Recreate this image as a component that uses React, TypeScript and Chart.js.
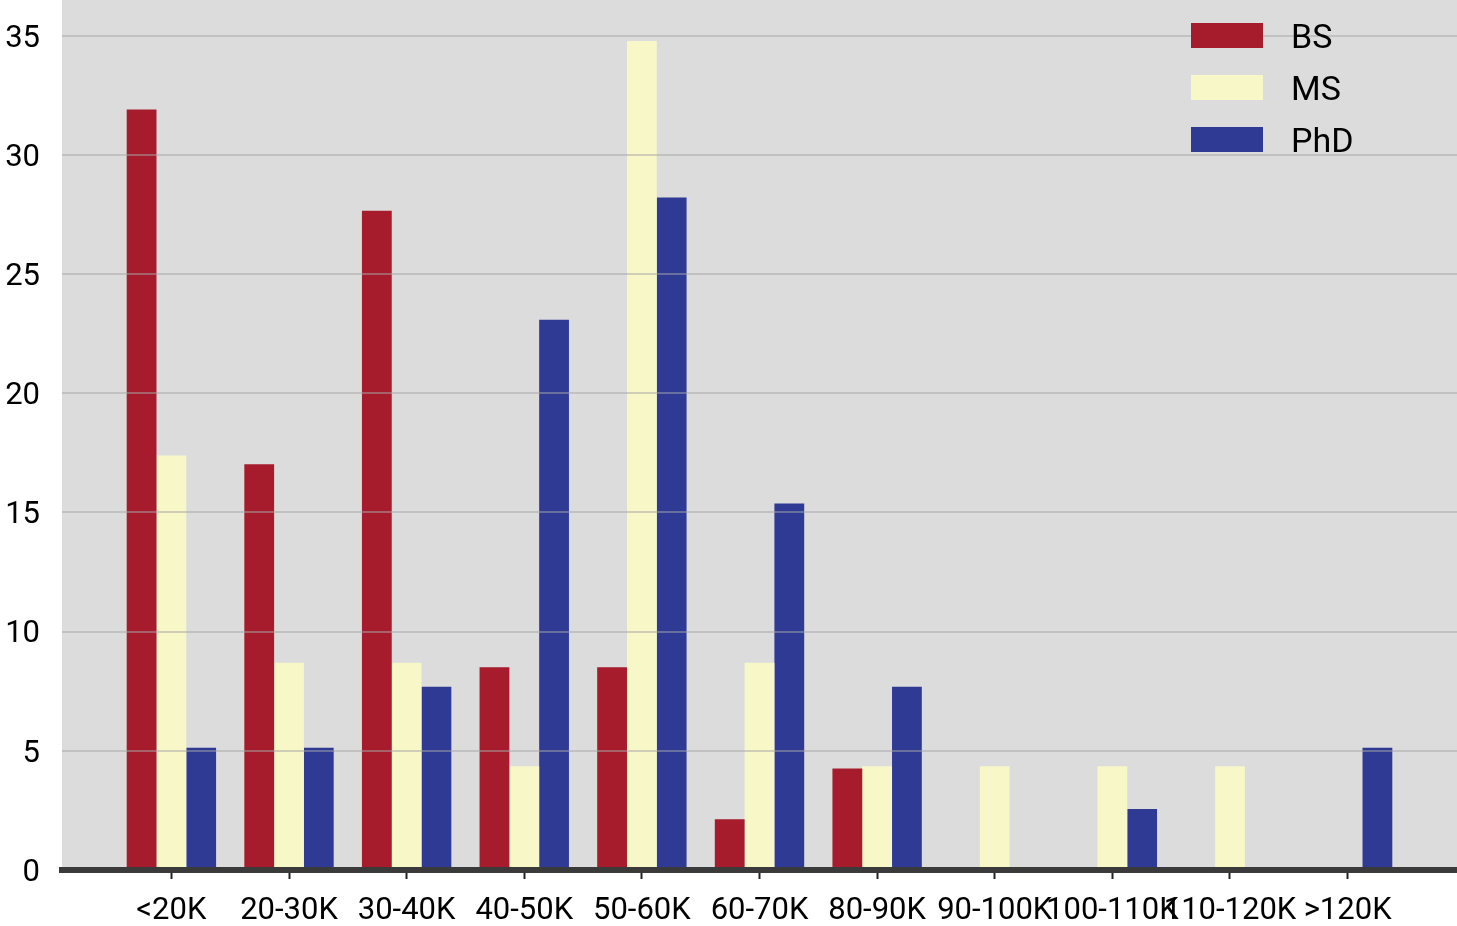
import React, { useEffect, useRef } from "react";
import { Chart, registerables } from "chart.js";

Chart.register(...registerables);

const categories = ["<20K", "20-30K", "30-40K", "40-50K", "50-60K", "60-70K", "80-90K", "90-100K", "100-110K", "110-120K", ">120K"];
const bsValues: (number | null)[] = [31.91, 17.02, 27.66, 8.51, 8.51, 2.13, 4.26, null, null, null, null];
const msValues: (number | null)[] = [17.39, 8.7, 8.7, 4.35, 34.78, 8.7, 4.35, 4.35, 4.35, 4.35, null];
const phdValues: (number | null)[] = [5.13, 5.13, 7.69, 23.08, 28.21, 15.38, 7.69, null, 2.56, null, 5.13];
const yTicks = [0, 5, 10, 15, 20, 25, 30, 35];
const seriesNames = ["BS", "MS", "PhD"];
const seriesColors = ["#a61c2d", "#f7f7c7", "#2f3a94"];

const toPoints = (vals: (number | null)[]) => vals.map((v, i) => ({ x: i, y: v }));

const bgPlugin = {
  id: "plotBg",
  beforeDraw(chart: any) {
    const { ctx, chartArea } = chart;
    ctx.save();
    ctx.fillStyle = "#dcdcdc";
    ctx.fillRect(chartArea.left, chartArea.top, chartArea.right - chartArea.left, chartArea.bottom - chartArea.top);
    ctx.restore();
  },
};

const legendPlugin = {
  id: "customLegend",
  afterDraw(chart: any) {
    const { ctx } = chart;
    ctx.save();
    ctx.font = "34px Roboto";
    ctx.textBaseline = "alphabetic";
    ctx.textAlign = "left";
    seriesNames.forEach((name, i) => {
      const y = 23 + i * 52;
      ctx.fillStyle = seriesColors[i];
      ctx.fillRect(1191, y, 72, 25);
      ctx.fillStyle = "#000";
      ctx.fillText(name, 1291, y + 24.5);
    });
    ctx.restore();
  },
};

export default function App() {
  const canvasRef = useRef<HTMLCanvasElement | null>(null);

  useEffect(() => {
    document.body.style.margin = "0";
    const canvas = canvasRef.current;
    if (!canvas) return;
    const chart = new Chart(canvas, {
      type: "bar",
      data: {
        datasets: [
          { label: seriesNames[0], data: toPoints(bsValues), backgroundColor: seriesColors[0], borderWidth: 0 },
          { label: seriesNames[1], data: toPoints(msValues), backgroundColor: seriesColors[1], borderWidth: 0 },
          { label: seriesNames[2], data: toPoints(phdValues), backgroundColor: seriesColors[2], borderWidth: 0 },
        ],
      },
      options: {
        responsive: false,
        animation: false,
        devicePixelRatio: 1,
        layout: { padding: 0 },
        datasets: { bar: { categoryPercentage: 0.76, barPercentage: 1.0 } },
        plugins: { legend: { display: false }, tooltip: { enabled: false } },
        scales: {
          x: {
            type: "linear",
            min: -0.93,
            max: 10.93,
            offset: false,
            afterBuildTicks: (scale: any) => {
              scale.ticks = categories.map((_, i) => ({ value: i }));
            },
            afterFit: (scale: any) => {
              scale.height = 56;
              scale.paddingLeft = 0;
              scale.paddingRight = 0;
            },
            ticks: {
              autoSkip: false,
              maxRotation: 0,
              minRotation: 0,
              padding: 14,
              color: "#000",
              font: { family: "Roboto", size: 31 },
              callback: (v: any) => categories[Math.round(Number(v))] ?? "",
            },
            grid: {
              offset: false,
              drawOnChartArea: false,
              drawTicks: true,
              tickLength: 9,
              tickColor: "#222",
              tickWidth: 2,
            },
            border: { display: true, color: "#3a3a3a", width: 6, z: 2 },
          },
          y: {
            min: 0,
            max: 36.5,
            afterBuildTicks: (scale: any) => {
              scale.ticks = yTicks.map((v) => ({ value: v }));
            },
            afterFit: (scale: any) => {
              scale.width = 62;
              scale.paddingTop = 0;
              scale.paddingBottom = 0;
            },
            ticks: {
              padding: 22,
              labelOffset: 3,
              color: "#000",
              font: { family: "Roboto", size: 31 },
            },
            grid: {
              color: "rgba(165,165,165,0.5)",
              lineWidth: 2,
              drawTicks: false,
              z: 1,
            },
            border: { display: false },
          },
        },
      },
      plugins: [bgPlugin, legendPlugin],
    } as any);
    return () => chart.destroy();
  }, []);

  return (
    <div style={{ position: "absolute", left: 0, top: 0, width: 1457, height: 926 }}>
      <canvas ref={canvasRef} width={1457} height={926} style={{ width: 1457, height: 926, display: "block" }} />
    </div>
  );
}
